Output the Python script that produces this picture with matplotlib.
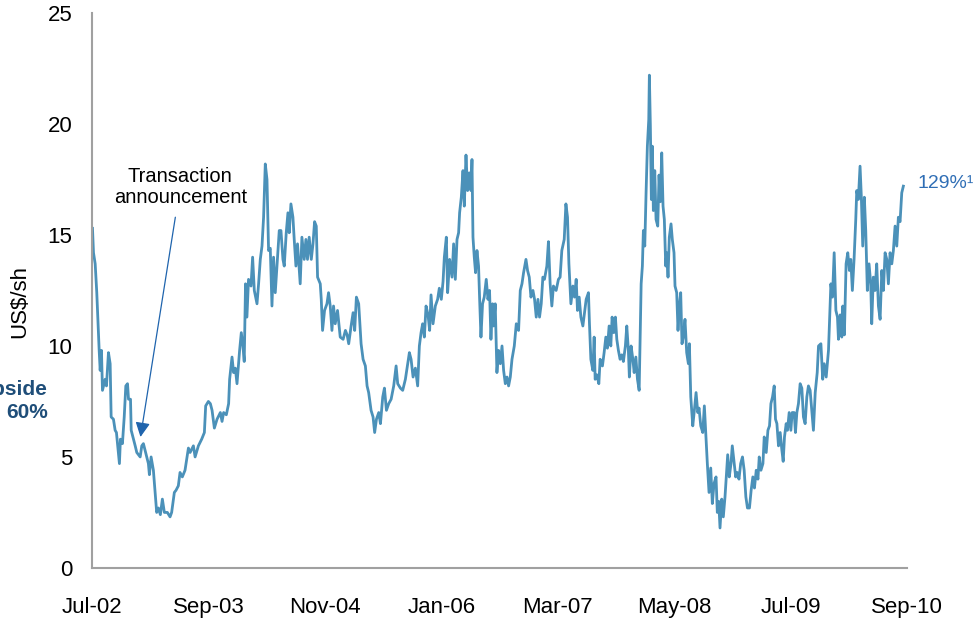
import numpy as np
import pandas as pd
import matplotlib
matplotlib.use('Agg')
import matplotlib.pyplot as plt

plt.rcParams['font.family'] = ['Liberation Sans', 'DejaVu Sans']

# share price (US$/sh); x as decimal years
years = [
    2002.500, 2002.510, 2002.527, 2002.543, 2002.567, 2002.577, 2002.590, 2002.600, 2002.627, 2002.640,
    2002.660, 2002.677, 2002.687, 2002.710, 2002.727, 2002.740, 2002.770, 2002.780, 2002.800, 2002.818,
    2002.834, 2002.851, 2002.861, 2002.881, 2002.888, 2002.911, 2002.928, 2002.944, 2002.978, 2002.994,
    2003.011, 2003.044, 2003.061, 2003.071, 2003.088, 2003.111, 2003.128, 2003.144, 2003.161, 2003.181,
    2003.201, 2003.221, 2003.251, 2003.278, 2003.294, 2003.321, 2003.338, 2003.361, 2003.378, 2003.401,
    2003.428, 2003.462, 2003.479, 2003.512, 2003.529, 2003.562, 2003.595, 2003.622, 2003.635, 2003.662,
    2003.682, 2003.699, 2003.722, 2003.749, 2003.782, 2003.799, 2003.815, 2003.842, 2003.865, 2003.875,
    2003.899, 2003.915, 2003.932, 2003.949, 2003.975, 2003.992, 2004.009, 2004.022, 2004.035, 2004.049,
    2004.065, 2004.090, 2004.106, 2004.123, 2004.150, 2004.166, 2004.183, 2004.200, 2004.216, 2004.233,
    2004.250, 2004.266, 2004.283, 2004.300, 2004.316, 2004.333, 2004.350, 2004.373, 2004.390, 2004.410,
    2004.423, 2004.443, 2004.460, 2004.473, 2004.490, 2004.510, 2004.523, 2004.540, 2004.556, 2004.583,
    2004.600, 2004.623, 2004.640, 2004.656, 2004.673, 2004.694, 2004.711, 2004.727, 2004.744, 2004.757,
    2004.784, 2004.794, 2004.807, 2004.827, 2004.851, 2004.867, 2004.884, 2004.901, 2004.917, 2004.934,
    2004.957, 2004.984, 2005.011, 2005.034, 2005.051, 2005.067, 2005.091, 2005.111, 2005.127, 2005.144,
    2005.167, 2005.191, 2005.211, 2005.234, 2005.251, 2005.267, 2005.291, 2005.311, 2005.327, 2005.345,
    2005.368, 2005.385, 2005.408, 2005.425, 2005.445, 2005.468, 2005.492, 2005.518, 2005.542, 2005.558,
    2005.585, 2005.608, 2005.635, 2005.658, 2005.675, 2005.692, 2005.712, 2005.735, 2005.758, 2005.775,
    2005.792, 2005.808, 2005.825, 2005.842, 2005.862, 2005.878, 2005.892, 2005.912, 2005.935, 2005.958,
    2005.975, 2005.995, 2006.013, 2006.026, 2006.046, 2006.059, 2006.079, 2006.103, 2006.119, 2006.136,
    2006.153, 2006.169, 2006.179, 2006.196, 2006.213, 2006.226, 2006.243, 2006.259, 2006.276, 2006.293,
    2006.303, 2006.313, 2006.326, 2006.339, 2006.353, 2006.369, 2006.379, 2006.393, 2006.409, 2006.426,
    2006.446, 2006.463, 2006.479, 2006.493, 2006.509, 2006.519, 2006.536, 2006.553, 2006.569, 2006.587,
    2006.604, 2006.620, 2006.637, 2006.654, 2006.670, 2006.687, 2006.704, 2006.727, 2006.747, 2006.770,
    2006.787, 2006.804, 2006.820, 2006.844, 2006.860, 2006.877, 2006.894, 2006.914, 2006.930, 2006.947,
    2006.964, 2006.980, 2006.997, 2007.014, 2007.030, 2007.054, 2007.070, 2007.087, 2007.104, 2007.120,
    2007.147, 2007.170, 2007.187, 2007.204, 2007.228, 2007.245, 2007.261, 2007.275, 2007.295, 2007.315,
    2007.331, 2007.348, 2007.361, 2007.378, 2007.395, 2007.415, 2007.431, 2007.448, 2007.471, 2007.481,
    2007.495, 2007.515, 2007.528, 2007.538, 2007.555, 2007.575, 2007.588, 2007.611, 2007.628, 2007.645,
    2007.661, 2007.678, 2007.695, 2007.708, 2007.725, 2007.741, 2007.755, 2007.771, 2007.788, 2007.805,
    2007.821, 2007.841, 2007.855, 2007.871, 2007.881, 2007.898, 2007.916, 2007.929, 2007.946, 2007.962,
    2007.979, 2007.989, 2007.999, 2008.012, 2008.022, 2008.036, 2008.049, 2008.062, 2008.076, 2008.082,
    2008.092, 2008.102, 2008.112, 2008.122, 2008.136, 2008.149, 2008.166, 2008.179, 2008.192, 2008.206,
    2008.219, 2008.232, 2008.246, 2008.256, 2008.269, 2008.282, 2008.299, 2008.312, 2008.329, 2008.339,
    2008.356, 2008.369, 2008.382, 2008.396, 2008.409, 2008.422, 2008.439, 2008.456, 2008.473, 2008.483,
    2008.497, 2008.517, 2008.533, 2008.550, 2008.567, 2008.580, 2008.597, 2008.617, 2008.633, 2008.650,
    2008.663, 2008.680, 2008.697, 2008.713, 2008.730, 2008.750, 2008.763, 2008.777, 2008.790, 2008.807,
    2008.823, 2008.840, 2008.857, 2008.867, 2008.883, 2008.900, 2008.913, 2008.930, 2008.947, 2008.963,
    2008.980, 2008.997, 2009.013, 2009.030, 2009.047, 2009.063, 2009.083, 2009.100, 2009.117, 2009.133,
    2009.151, 2009.168, 2009.181, 2009.198, 2009.218, 2009.231, 2009.251, 2009.268, 2009.284, 2009.298,
    2009.314, 2009.331, 2009.344, 2009.358, 2009.374, 2009.391, 2009.408, 2009.421, 2009.434, 2009.451,
    2009.464, 2009.481, 2009.498, 2009.511, 2009.531, 2009.544, 2009.558, 2009.574, 2009.591, 2009.608,
    2009.624, 2009.641, 2009.658, 2009.674, 2009.691, 2009.708, 2009.724, 2009.742, 2009.762, 2009.775,
    2009.799, 2009.817, 2009.832, 2009.852, 2009.875, 2009.899, 2009.915, 2009.932, 2009.949, 2009.965,
    2009.975, 2009.992, 2010.009, 2010.019, 2010.035, 2010.052, 2010.069, 2010.085, 2010.099, 2010.115,
    2010.132, 2010.149, 2010.159, 2010.175, 2010.192, 2010.205, 2010.219, 2010.235, 2010.249, 2010.265,
    2010.282, 2010.299, 2010.309, 2010.325, 2010.342, 2010.359, 2010.376, 2010.393, 2010.410, 2010.426,
    2010.443, 2010.460, 2010.476, 2010.493, 2010.510, 2010.526, 2010.543, 2010.560, 2010.576, 2010.593,
    2010.610, 2010.626,
]
price = [
    15.3, 14.2, 13.7, 12.4, 9.8, 8.9, 9.8, 8.0, 8.5, 8.2,
    9.7, 9.2, 6.8, 6.7, 6.2, 6.1, 4.7, 5.8, 5.6, 6.8,
    8.2, 8.3, 7.6, 7.6, 6.2, 5.8, 5.5, 5.2, 5.0, 5.5,
    5.6, 5.0, 4.7, 4.2, 5.0, 4.4, 3.4, 2.5, 2.7, 2.4,
    3.1, 2.5, 2.5, 2.3, 2.5, 3.4, 3.5, 3.7, 4.3, 4.1,
    4.4, 5.4, 5.2, 5.5, 5.0, 5.5, 5.8, 6.1, 7.3, 7.5,
    7.4, 7.1, 6.3, 6.7, 7.0, 6.6, 7.0, 6.9, 7.4, 8.5,
    9.5, 8.8, 9.0, 8.3, 9.8, 10.6, 10.0, 9.3, 12.8, 11.3,
    13.0, 12.7, 14.0, 12.5, 11.9, 12.8, 13.9, 14.5, 15.8, 18.2,
    17.5, 14.3, 14.4, 11.8, 14.0, 12.4, 13.6, 15.2, 15.2, 13.9,
    13.6, 15.1, 16.0, 15.1, 16.4, 15.8, 14.8, 13.6, 14.6, 12.8,
    14.9, 13.9, 14.8, 13.9, 14.9, 13.9, 14.6, 15.6, 15.4, 13.1,
    12.8, 12.1, 10.7, 11.6, 11.9, 12.4, 11.8, 10.7, 11.8, 11.0,
    11.6, 10.4, 10.3, 10.7, 10.5, 10.1, 10.9, 11.5, 10.7, 12.2,
    11.9, 10.1, 9.4, 9.1, 8.2, 7.9, 7.1, 6.8, 6.1, 6.7,
    7.0, 6.5, 7.7, 8.1, 7.1, 7.4, 7.6, 8.2, 9.1, 8.3,
    8.1, 8.0, 8.5, 9.2, 9.7, 9.4, 8.6, 9.0, 8.2, 10.0,
    10.6, 11.0, 10.4, 11.8, 11.4, 10.7, 12.3, 11.0, 11.8, 12.1,
    12.6, 12.1, 12.9, 14.0, 14.9, 12.4, 13.9, 13.1, 14.6, 13.0,
    14.8, 15.1, 16.0, 16.7, 17.9, 16.3, 18.6, 17.0, 17.8, 17.0,
    18.4, 14.9, 14.0, 13.3, 14.3, 13.6, 12.2, 10.4, 11.9, 12.2,
    13.0, 12.1, 12.5, 10.3, 11.9, 10.9, 11.9, 8.8, 9.8, 9.2,
    10.0, 8.9, 8.3, 8.6, 8.2, 8.6, 9.4, 10.0, 11.0, 10.7,
    12.5, 12.8, 13.3, 13.9, 13.4, 13.1, 12.2, 12.5, 12.1, 11.3,
    12.1, 11.3, 11.9, 13.1, 13.0, 13.6, 14.7, 12.8, 11.8, 12.7,
    12.5, 13.0, 13.1, 14.3, 14.8, 16.4, 15.8, 13.7, 11.9, 12.7,
    12.2, 13.0, 11.6, 12.2, 11.3, 10.9, 11.5, 12.1, 12.4, 11.0,
    9.4, 8.9, 10.4, 8.5, 8.7, 8.3, 9.4, 9.1, 9.7, 10.4,
    9.9, 10.9, 10.0, 11.3, 10.6, 11.3, 10.3, 9.8, 9.4, 9.6,
    9.3, 10.0, 10.9, 9.8, 8.6, 10.0, 9.4, 8.8, 9.5, 8.5,
    8.0, 10.4, 12.8, 13.6, 15.2, 14.5, 16.9, 19.0, 20.2, 22.2,
    19.9, 16.6, 19.0, 16.1, 17.9, 15.7, 15.4, 17.7, 16.5, 18.7,
    16.3, 15.7, 13.6, 14.2, 13.1, 14.9, 15.5, 14.8, 14.2, 12.7,
    12.4, 10.7, 11.8, 12.4, 10.1, 10.4, 11.2, 9.7, 9.2, 10.1,
    7.7, 6.4, 7.1, 7.9, 7.0, 7.2, 6.4, 6.1, 7.3, 5.8,
    4.7, 3.4, 4.5, 2.9, 3.8, 4.1, 2.5, 3.0, 1.8, 3.1,
    2.3, 3.2, 4.4, 5.1, 4.1, 4.7, 5.5, 4.8, 4.1, 4.3,
    4.0, 4.7, 5.0, 4.4, 3.2, 2.7, 2.7, 3.5, 4.1, 3.6,
    4.4, 4.0, 5.0, 4.4, 4.7, 5.9, 5.2, 6.2, 6.4, 7.4,
    7.7, 8.2, 6.7, 6.5, 5.5, 6.1, 5.3, 4.8, 5.9, 6.5,
    6.2, 7.0, 6.2, 7.0, 7.0, 6.1, 7.0, 7.4, 8.3, 8.1,
    6.8, 6.5, 7.7, 8.2, 8.0, 7.1, 6.2, 7.9, 8.8, 10.0,
    10.1, 8.5, 9.2, 8.6, 9.8, 12.8, 12.2, 14.2, 11.6, 11.3,
    10.3, 11.4, 10.4, 11.8, 10.5, 13.7, 14.2, 13.4, 13.9, 12.5,
    13.9, 15.7, 17.0, 16.6, 18.1, 16.7, 14.5, 16.7, 15.2, 12.5,
    13.7, 12.8, 11.0, 13.1, 12.5, 13.7, 11.8, 11.2, 13.4, 12.5,
    14.2, 13.9, 12.8, 14.2, 13.7, 14.3, 15.4, 14.5, 15.8, 15.6,
    16.9, 17.2,
]

tick_labels = ['Jul-02', 'Sep-03', 'Nov-04', 'Jan-06', 'Mar-07', 'May-08', 'Jul-09', 'Sep-10']
y_ticks = [0, 5, 10, 15, 20, 25]

# annotation anchors (decimal year, US$/sh)
announce_tip = (2002.981, 5.9)
announce_tail = (2003.331, 15.8)
announce_text_pos = (2003.381, 17.15)


def to_date(y):
    yr = int(y)
    return pd.Timestamp(yr, 1, 1) + pd.Timedelta(days=(y - yr) * 365.25)


dates = [to_date(y) for y in years]
tick_dates = pd.date_range('2002-07-01', periods=len(tick_labels), freq='14MS')

fig = plt.figure(figsize=(9.74, 6.2), dpi=100)
ax = fig.add_axes([0.0945, 0.084, 0.837, 0.895])

ax.plot(dates, price, color='#4b91b9', lw=2.0)

ax.set_ylim(0, 25)
ax.set_yticks(y_ticks)
ax.set_xlim(tick_dates[0], tick_dates[-1])
ax.set_xticks(tick_dates)
ax.set_xticklabels(tick_labels)
ax.tick_params(axis='both', length=0, labelsize=16, colors='black')
ax.tick_params(axis='x', pad=21)
ax.tick_params(axis='y', pad=14)

for s in ['top', 'right']:
    ax.spines[s].set_visible(False)
for s in ['left', 'bottom']:
    ax.spines[s].set_color('#a0a0a0')
    ax.spines[s].set_linewidth(1.5)

ax.set_ylabel('US$/sh', fontsize=16, labelpad=8)
ax.yaxis.set_label_coords(-0.076, 0.48)

# transaction announcement arrow
ax.annotate('', xy=(to_date(announce_tip[0]), announce_tip[1]),
            xytext=(to_date(announce_tail[0]), announce_tail[1]),
            arrowprops=dict(arrowstyle='-|>', color='#1f64ad', lw=0.9,
                            mutation_scale=22, shrinkA=0, shrinkB=0))
ax.text(to_date(announce_text_pos[0]), announce_text_pos[1],
        'Transaction\nannouncement', ha='center', va='center',
        fontsize=14.5, linespacing=1.15)

# end-of-series label
ax.annotate('129%¹', xy=(dates[-1], price[-1]), xytext=(10, 2),
            textcoords='offset points', ha='left', va='center',
            fontsize=14, color='#2f6eb5', annotation_clip=False)

# cut-off side label on the left
fig.text(48 / 974, 1 - 401 / 620, 'Upside\n60%', ha='right', va='center',
         multialignment='right', fontsize=15, fontweight='bold',
         color='#1f4e79', linespacing=1.25)

fig.savefig('out.png', dpi=100)
